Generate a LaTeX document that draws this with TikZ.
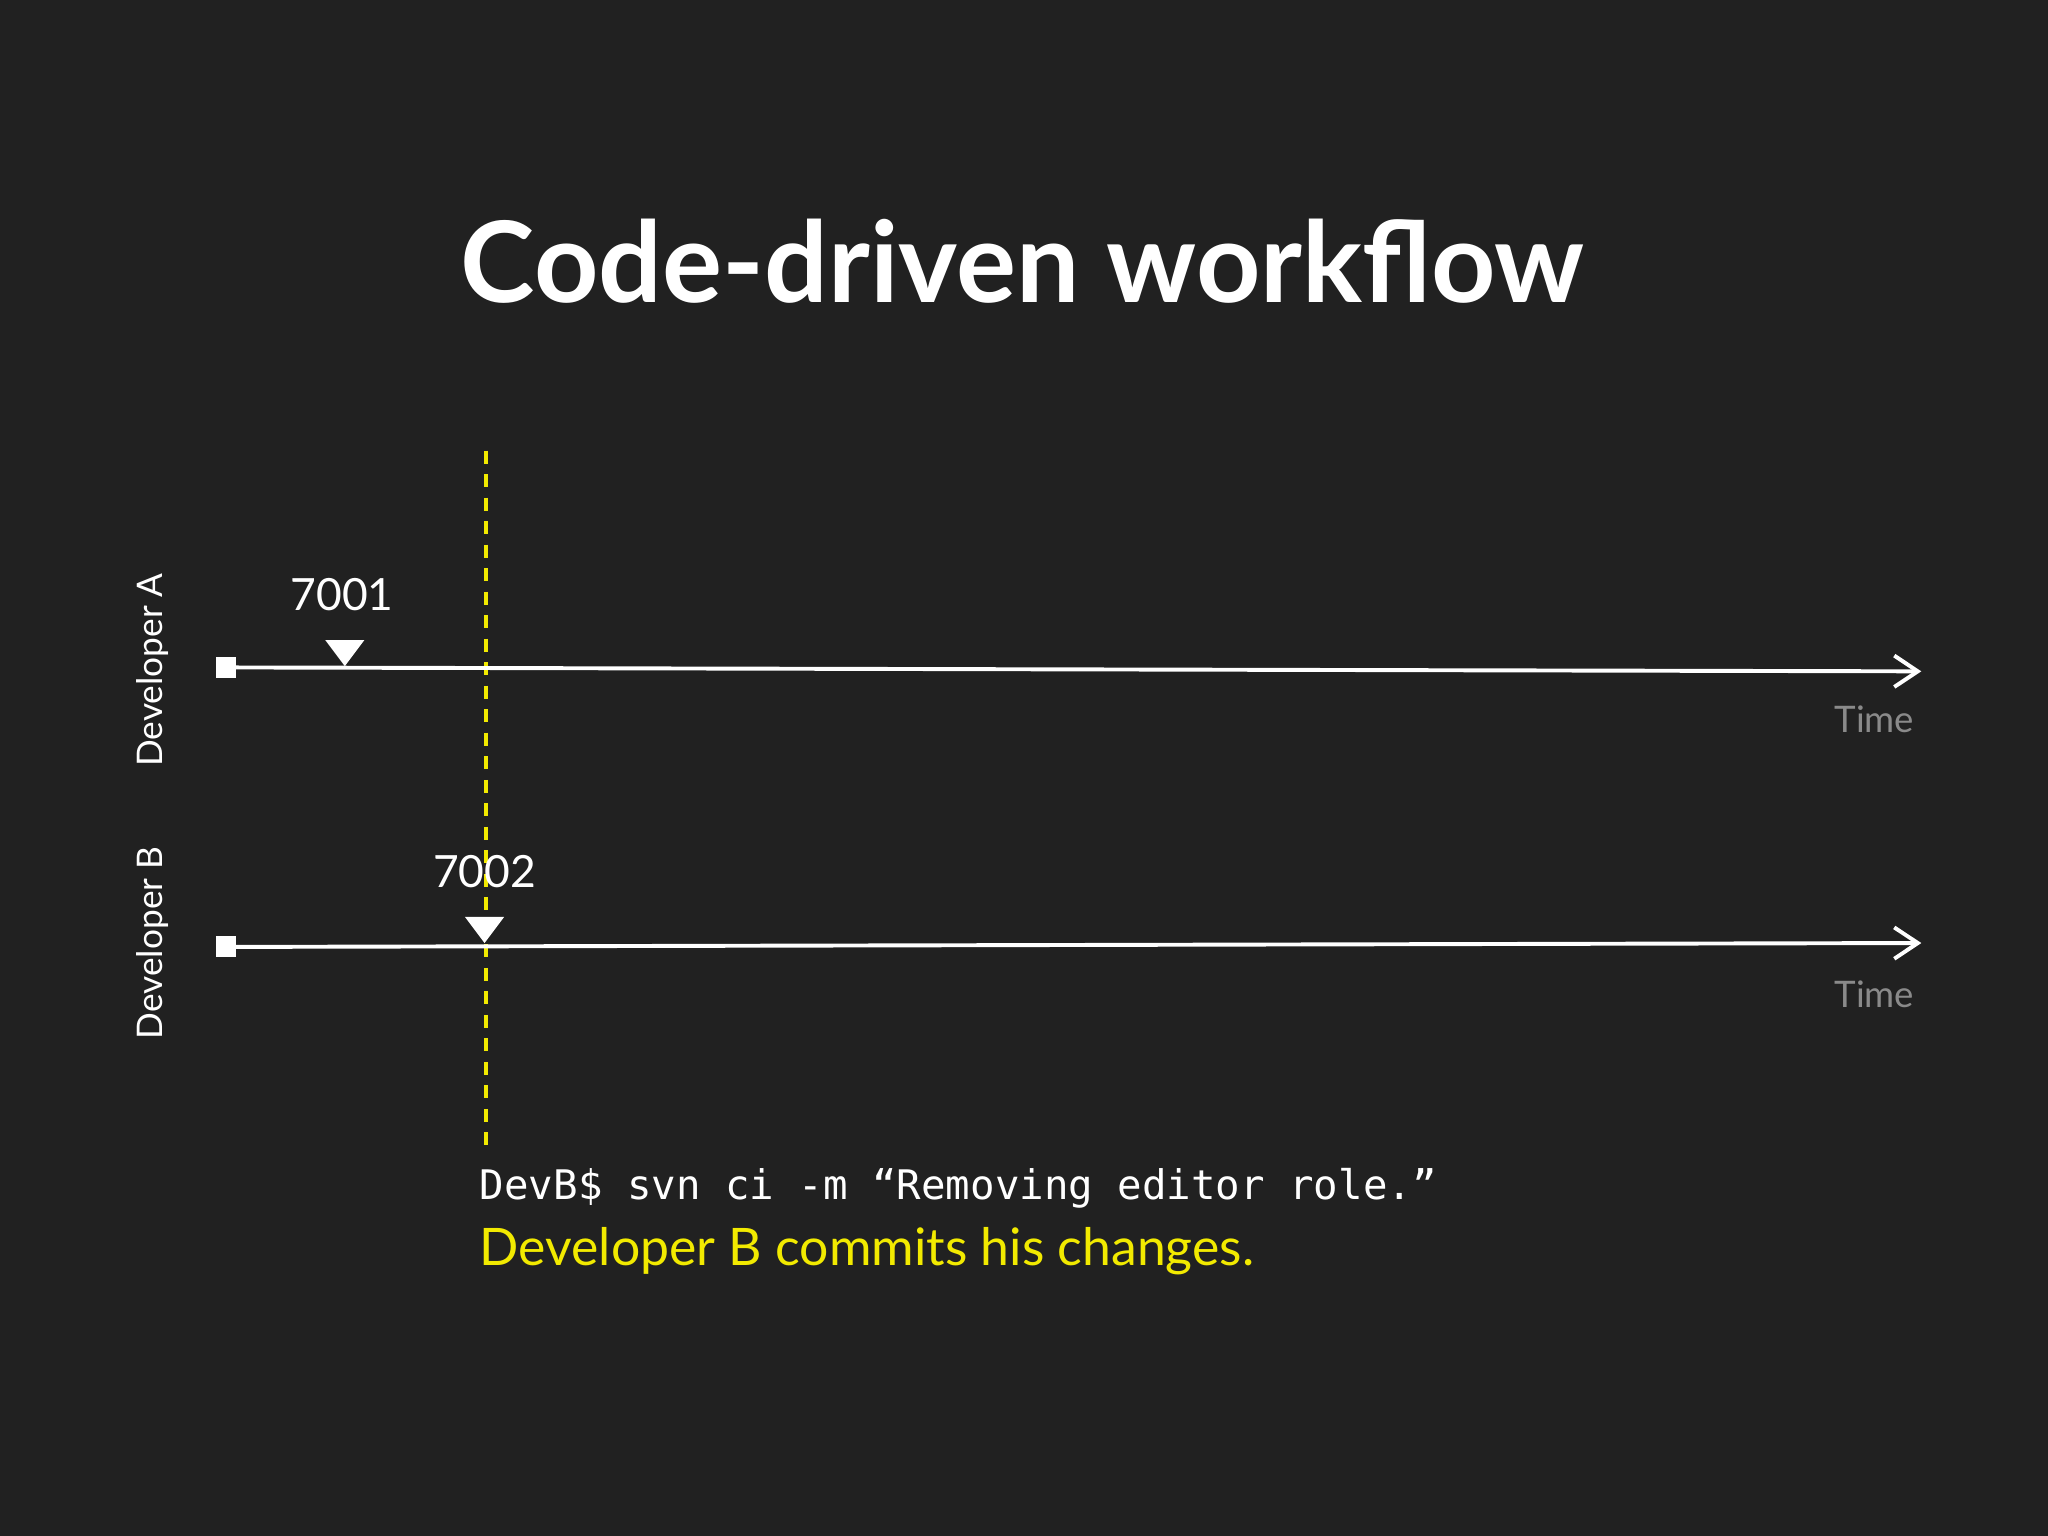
\documentclass[tikz,border=0pt]{standalone}
\usepackage{fontspec}
\setmainfont{Lato}
\setmonofont{DejaVu Sans Mono}
\usetikzlibrary{arrows.meta}
\definecolor{bg}{HTML}{212121}
\definecolor{yel}{HTML}{F2EA00}
\definecolor{tgray}{HTML}{8A8A8A}
\tikzset{
  tl/.style={draw=white,line width=1.5pt,-{Straight Barb[length=9pt,width=12pt,line width=1.5pt]}},
  sq/.style={fill=white,minimum size=8pt,inner sep=0pt},
  lbl/.style={text=white,font=\fontsize{17}{20}\selectfont},
  dev/.style={text=white,font=\fontsize{13.5}{16}\selectfont,rotate=90},
  tm/.style={text=tgray,font=\fontsize{14}{17}\selectfont}
}
\begin{document}
\begin{tikzpicture}[x=0.5pt,y=-0.5pt]
\fill[bg] (0,0) rectangle (1568,1176);
\useasboundingbox (0,0) rectangle (1568,1176);
\node[text=white,font=\bfseries\fontsize{43}{50}\selectfont] (title) at (783,200) {Code-driven workflow};
\coordinate (dt) at (372,345); \coordinate (db) at (372,882);
\draw[yel,line width=1.5pt,dash pattern=on 5pt off 4pt] (dt) -- (db);
\node[sq] (sa) at (173,511) {};
\coordinate (ea) at (1471,514);
\draw[tl] (sa.center) -- (ea);
\node[sq] (sb) at (173,725) {};
\coordinate (eb) at (1471,722);
\draw[tl] (sb.center) -- (eb);
\fill[white] (249,490) -- (279,490) -- (264,510) -- cycle;
\fill[white] (356,702) -- (386,702) -- (371,722) -- cycle;
\node[lbl] (l1) at (262,455) {7001};
\node[lbl] (l2) at (371,667) {7002};
\node[tm] (t1) at (1435,551) {Time};
\node[tm] (t2) at (1435,761) {Time};
\node[dev] (da) at (117,513) {Developer A};
\node[dev] (dbl) at (117,722) {Developer B};
\node[anchor=west,text=white,font=\ttfamily\fontsize{15.6}{18}\selectfont,inner sep=0pt] (cmd) at (367,910) {DevB\$ svn ci -m “Removing editor role.”};
\node[anchor=west,text=yel,font=\fontsize{19.8}{22}\selectfont,inner sep=0pt] (cap) at (367,958) {Developer B commits his changes.};
\end{tikzpicture}
\end{document}
